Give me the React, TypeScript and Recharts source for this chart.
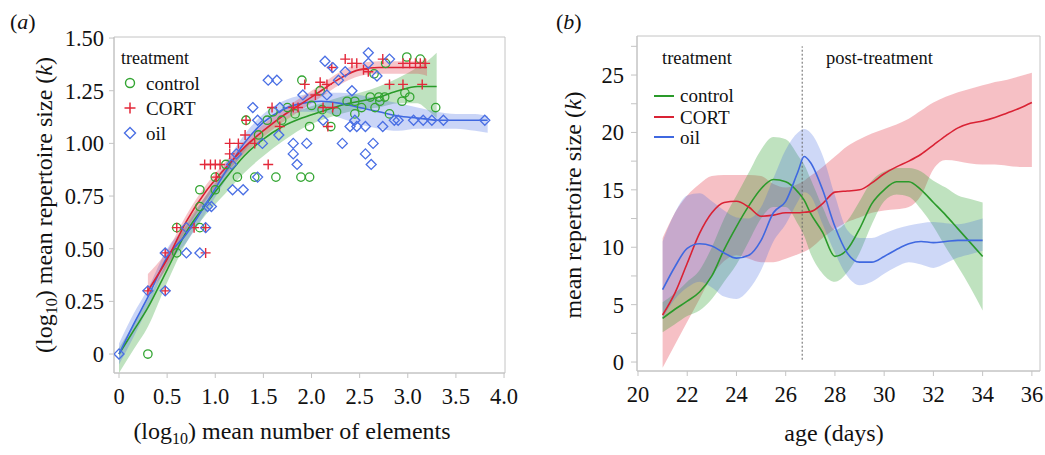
import React from "react";
import { ComposedChart, Area, Line, Scatter, XAxis, YAxis, ReferenceLine, ReferenceArea } from "recharts";

const FONT = '"Liberation Serif", "Times New Roman", serif';
const AXIS = "#c4c4c4";

// ---- panel (a): scatter of log10 elements vs log10 repertoire ----
const controlPts: [number, number][] = [
  [0.3, 0], [0.6, 0.48], [0.6, 0.6], [0.84, 0.6], [0.84, 0.7], [0.84, 0.78], [1.0, 0.78], [1.0, 0.84],
  [1.11, 0.9], [1.23, 0.84], [1.41, 0.84], [1.63, 0.84], [1.89, 0.84], [1.98, 0.84], [1.32, 1.11],
  [1.54, 1.11], [1.69, 1.11], [1.83, 1.14], [1.9, 1.3], [1.98, 1.08], [2.09, 1.25], [2.11, 1.16],
  [2.2, 1.08], [2.26, 1.15], [2.37, 1.2], [2.45, 1.2], [2.45, 1.14], [2.52, 1.17], [2.61, 1.22],
  [2.66, 1.17], [2.7, 1.22], [2.71, 1.2], [2.76, 1.22], [2.81, 1.14], [2.65, 1.33], [2.77, 1.38],
  [2.94, 1.2], [2.97, 1.24], [3.02, 1.22], [2.99, 1.41], [3.13, 1.4], [3.29, 1.17], [1.6, 1.15],
  [1.75, 1.17], [2.0, 1.18], [1.45, 1.04],
];
const cortPts: [number, number][] = [
  [0.3, 0.3], [0.48, 0.3], [0.48, 0.48], [0.9, 0.48], [0.6, 0.6], [0.78, 0.6], [0.9, 0.6],
  [0.89, 0.9], [0.95, 0.9], [1.0, 0.9], [1.05, 0.9], [1.01, 0.84], [1.15, 1.0], [1.15, 0.95],
  [1.24, 1.0], [1.31, 1.04], [1.32, 1.11], [1.41, 1.0], [1.55, 0.9], [1.59, 1.17], [1.67, 1.08],
  [1.81, 1.17], [1.86, 1.17], [1.93, 1.28], [2.04, 1.23], [2.09, 1.29], [2.12, 1.17], [2.16, 1.28],
  [2.17, 1.08], [2.22, 1.17], [2.21, 1.36], [2.35, 1.4], [2.42, 1.38], [2.47, 1.38], [2.54, 1.35],
  [2.59, 1.34], [2.74, 1.4], [2.81, 1.28], [2.95, 1.38], [2.95, 1.28], [3.02, 1.38], [3.08, 1.38],
  [3.13, 1.38], [3.15, 1.28], [3.18, 1.38],
];
const oilPts: [number, number][] = [
  [0, 0], [0.3, 0.3], [0.48, 0.3], [0.48, 0.48], [0.7, 0.48], [0.84, 0.48], [0.7, 0.6], [0.9, 0.6],
  [0.92, 0.7], [0.96, 0.7], [1.18, 0.78], [1.29, 0.78], [1.44, 0.84], [1.55, 1.3], [1.64, 1.3],
  [1.39, 1.17], [1.44, 1.11], [1.49, 1.0], [1.67, 1.17], [1.66, 1.04], [1.81, 1.0], [1.81, 0.95],
  [1.85, 0.9], [1.95, 1.0], [2.12, 1.11], [2.14, 1.39], [2.22, 1.36], [2.35, 1.34], [2.28, 1.3],
  [2.32, 1.0], [2.42, 1.25], [2.4, 1.08], [2.45, 1.11], [2.47, 1.08], [2.56, 1.08], [2.56, 0.95],
  [2.59, 1.43], [2.59, 1.38], [2.62, 0.9], [2.64, 1.0], [2.68, 1.32], [2.74, 1.08], [2.81, 1.4],
  [2.86, 1.11], [2.9, 1.11], [3.06, 1.11], [3.16, 1.11], [3.25, 1.11], [3.37, 1.11], [3.8, 1.11],
  [1.22, 0.95], [1.17, 0.9], [1.91, 1.23], [2.16, 1.23],
];

const gridA = [0, 0.15, 0.3, 0.5, 0.7, 0.9, 1.1, 1.3, 1.5, 1.7, 1.9, 2.1, 2.3, 2.5, 2.7, 2.9, 3.1, 3.2, 3.3, 3.5, 3.7, 3.83];
const N = null;
const cortFitA = [N, N, 0.3, 0.45, 0.63, 0.77, 0.88, 0.98, 1.06, 1.13, 1.19, 1.25, 1.31, 1.35, 1.36, 1.36, 1.36, 1.36, N, N, N, N];
const cortLoA = [N, N, 0.29, 0.41, 0.59, 0.73, 0.85, 0.95, 1.03, 1.1, 1.16, 1.22, 1.28, 1.32, 1.33, 1.33, 1.33, 1.32, N, N, N, N];
const cortHiA = [N, N, 0.38, 0.49, 0.66, 0.8, 0.91, 1.01, 1.09, 1.16, 1.22, 1.28, 1.34, 1.38, 1.39, 1.39, 1.39, 1.4, N, N, N, N];
const ctrlFitA = [0, 0.11, 0.22, 0.4, 0.58, 0.71, 0.83, 0.94, 1.02, 1.08, 1.12, 1.15, 1.18, 1.2, 1.22, 1.25, 1.27, 1.27, 1.27, N, N, N];
const ctrlLoA = [-0.09, 0.02, 0.13, 0.34, 0.53, 0.66, 0.76, 0.86, 0.94, 1.01, 1.07, 1.11, 1.14, 1.16, 1.17, 1.19, 1.19, 1.16, 1.12, N, N, N];
const ctrlHiA = [0.03, 0.14, 0.26, 0.44, 0.62, 0.75, 0.87, 0.98, 1.06, 1.12, 1.16, 1.19, 1.22, 1.24, 1.27, 1.31, 1.36, 1.39, 1.43, N, N, N];
const oilFitA = [0, 0.14, 0.27, 0.46, 0.57, 0.71, 0.86, 1.0, 1.1, 1.16, 1.19, 1.2, 1.19, 1.17, 1.15, 1.13, 1.12, 1.115, 1.11, 1.11, 1.11, 1.11];
const oilLoA = [-0.05, 0.08, 0.22, 0.42, 0.53, 0.67, 0.82, 0.96, 1.06, 1.12, 1.15, 1.15, 1.12, 1.09, 1.07, 1.06, 1.07, 1.07, 1.07, 1.07, 1.06, 1.05];
const oilHiA = [0.05, 0.19, 0.31, 0.5, 0.61, 0.75, 0.9, 1.04, 1.14, 1.2, 1.23, 1.24, 1.24, 1.23, 1.21, 1.19, 1.17, 1.16, 1.15, 1.14, 1.14, 1.13];

const xTicksA = [0, 0.5, 1, 1.5, 2, 2.5, 3, 3.5, 4];
const yTicksA = [0, 0.25, 0.5, 0.75, 1, 1.25, 1.5];

// ---- panel (b): repertoire size by age ----
const days = [21, 21.5, 22, 22.5, 23, 23.5, 24, 24.5, 25, 25.5, 26, 26.5, 26.75, 27, 27.5, 28, 28.5, 29, 29.5, 30, 30.5, 31, 31.5, 32, 32.5, 33, 33.5, 34, 34.5, 35, 35.5, 36];
const cortB = [4.1, 6.0, 8.6, 11.2, 13.0, 13.9, 14.0, 13.5, 12.7, 12.8, 13.0, 13.0, 13.05, 13.1, 13.8, 14.8, 14.9, 15.0, 15.6, 16.4, 17.0, 17.5, 18.1, 18.9, 19.7, 20.4, 20.8, 21.0, 21.3, 21.7, 22.1, 22.6];
const cortLoB = [-0.5, 1.5, 3.5, 5.5, 7.5, 8.8, 9.3, 9.0, 8.7, 8.7, 9.0, 9.4, 9.6, 9.9, 10.8, 11.6, 12.2, 12.6, 13.0, 13.2, 13.3, 13.5, 14.5, 16.8, 17.6, 17.5, 17.3, 17.2, 17.2, 17.1, 17.0, 17.0];
const cortHiB = [10.8, 13.0, 14.5, 15.5, 16.2, 16.3, 16.3, 16.3, 16.2, 15.5, 15.2, 15.5, 15.8, 16.2, 17.0, 17.9, 18.8, 19.4, 19.9, 20.3, 20.7, 21.2, 21.9, 22.6, 23.1, 23.5, 23.8, 24.1, 24.4, 24.6, 24.9, 25.2];
const ctrlB = [3.8, 4.6, 5.3, 6.1, 7.5, 9.8, 11.8, 13.6, 15.1, 15.9, 15.7, 14.8, 14.1, 13.0, 11.3, 9.2, 9.8, 11.6, 13.8, 15.0, 15.7, 15.7, 15.0, 13.9, 12.8, 11.6, 10.4, 9.2, N, N, N, N];
const ctrlLoB = [2.6, 3.3, 4.0, 4.5, 5.5, 7.0, 8.5, 10.5, 12.5, 13.5, 13.5, 12.0, 11.0, 9.5, 7.7, 7.0, 7.8, 9.5, 12.0, 14.0, 14.6, 14.4, 13.3, 11.8, 10.0, 8.3, 6.5, 4.5, N, N, N, N];
const ctrlHiB = [5.2, 6.0, 7.0, 8.0, 10.0, 12.5, 14.5, 16.5, 18.5, 19.6, 19.4, 18.0, 17.2, 16.0, 13.5, 11.5, 12.3, 14.0, 15.8, 16.6, 16.9, 16.9, 16.6, 15.8, 15.2, 14.5, 14.2, 13.9, N, N, N, N];
const oilB = [6.3, 8.3, 9.9, 10.3, 10.1, 9.5, 9.05, 9.3, 10.6, 13.0, 14.0, 16.6, 17.9, 17.4, 15.0, 11.8, 9.5, 8.7, 8.7, 9.2, 9.8, 10.3, 10.5, 10.4, 10.5, 10.6, 10.6, 10.6, N, N, N, N];
const oilLoB = [3.8, 5.5, 6.5, 7.0, 6.5, 5.7, 5.5, 6.3, 8.0, 10.5, 12.0, 14.0, 14.8, 14.5, 12.0, 9.5, 7.5, 6.7, 7.0, 7.7, 8.3, 8.7, 8.5, 8.2, 8.6, 9.1, 9.4, 9.7, N, N, N, N];
const oilHiB = [10.5, 13.0, 14.5, 14.7, 14.0, 13.2, 12.6, 12.5, 13.5, 16.0, 18.5, 20.0, 20.3, 20.0, 18.0, 14.5, 11.5, 10.8, 10.8, 11.2, 11.6, 11.9, 12.1, 12.2, 12.1, 12.0, 12.2, 12.5, N, N, N, N];

const xTicksB = [20, 22, 24, 26, 28, 30, 32, 34, 36];
const yTicksB = [0, 2.5, 5, 7.5, 10, 12.5, 15, 17.5, 20, 22.5, 25, 27.5];
const treatmentEnd = 26.67;

const GREEN = "#2a9a2a";
const RED = "#d92234";
const BLUE = "#3f68e0";

const band = (lo: (number | null)[], hi: (number | null)[], i: number) =>
  lo[i] == null || hi[i] == null ? undefined : [lo[i], hi[i]];

const tableA = gridA.map((x, i) => ({
  x,
  cort: cortFitA[i], cortBand: band(cortLoA, cortHiA, i),
  ctrl: ctrlFitA[i], ctrlBand: band(ctrlLoA, ctrlHiA, i),
  oil: oilFitA[i], oilBand: band(oilLoA, oilHiA, i),
}));
const toXY = (pts: [number, number][]) => pts.map(([x, y]) => ({ x, y }));

const tableB = days.map((x, i) => ({
  x,
  cort: cortB[i], cortBand: band(cortLoB, cortHiB, i),
  ctrl: ctrlB[i], ctrlBand: band(ctrlLoB, ctrlHiB, i),
  oil: oilB[i], oilBand: band(oilLoB, oilHiB, i),
}));

const tick = { fontSize: 22.5, fill: "#111", fontFamily: FONT };

const CircleMark = (p: any) => <circle cx={p.cx} cy={p.cy} r={4.2} fill="none" stroke="#33a532" strokeWidth={1.3} />;
const PlusMark = (p: any) => (
  <path d={`M${p.cx - 5},${p.cy}h10M${p.cx},${p.cy - 5}v10`} stroke="#e3283a" strokeWidth={1.4} fill="none" />
);
const DiamondMark = (p: any) => (
  <path d={`M${p.cx},${p.cy - 5}L${p.cx + 5},${p.cy}L${p.cx},${p.cy + 5}L${p.cx - 5},${p.cy}Z`} stroke="#4a6fe4" strokeWidth={1.3} fill="none" />
);

const txt = (x: number, y: number, size: number, center = false, rot = false): React.CSSProperties => ({
  position: "absolute",
  left: x,
  top: y,
  fontSize: size,
  fontFamily: FONT,
  lineHeight: 1,
  whiteSpace: "nowrap",
  color: "#111",
  transform: `translate(${center ? "-50%" : "0"}, -50%)${rot ? " rotate(-90deg)" : ""}`,
});

const fmtA = (v: number) => (v === 0 ? "0" : v.toFixed(2));
const fmtAx = (v: number) => (v === 0 ? "0" : v.toFixed(1));

export default function App() {
  const xDomA: [number, number] = [-0.052, 4.01];
  const yDomA: [number, number] = [-0.09, 1.505];
  const xDomB: [number, number] = [19.96, 36.33];
  const yDomB: [number, number] = [-0.78, 28.4];

  return (
    <div style={{ position: "absolute", left: 0, top: 0, width: 1045, height: 455, background: "#fff" }}>
      <div style={{ position: "absolute", left: 0, top: 0 }}>
        <ComposedChart width={520} height={455} data={tableA} margin={{ top: 37, right: 15, bottom: 0, left: 0 }}>
          <XAxis
            dataKey="x" type="number" domain={xDomA} ticks={xTicksA} allowDataOverflow
            tickFormatter={fmtAx} tick={tick} height={82} tickSize={5} tickMargin={10}
            axisLine={{ stroke: AXIS }} tickLine={{ stroke: AXIS }}
          />
          <YAxis
            type="number" domain={yDomA} ticks={yTicksA} allowDataOverflow
            tickFormatter={fmtA} tick={tick} width={114} tickSize={5} tickMargin={5}
            axisLine={{ stroke: AXIS }} tickLine={{ stroke: AXIS }}
          />
          <ReferenceArea x1={xDomA[0]} x2={xDomA[1]} y1={yDomA[0]} y2={yDomA[1]} fill="none" stroke={AXIS} ifOverflow="visible" />
          <Area dataKey="ctrlBand" type="monotone" stroke="none" fill="#2ca02c" fillOpacity={0.3} isAnimationActive={false} activeDot={false} />
          <Area dataKey="oilBand" type="monotone" stroke="none" fill="#4169e1" fillOpacity={0.28} isAnimationActive={false} activeDot={false} />
          <Area dataKey="cortBand" type="monotone" stroke="none" fill="#e0303f" fillOpacity={0.28} isAnimationActive={false} activeDot={false} />
          <Scatter data={toXY(controlPts)} dataKey="y" shape={CircleMark} isAnimationActive={false} />
          <Scatter data={toXY(cortPts)} dataKey="y" shape={PlusMark} isAnimationActive={false} />
          <Scatter data={toXY(oilPts)} dataKey="y" shape={DiamondMark} isAnimationActive={false} />
          <Line dataKey="ctrl" type="monotone" stroke={GREEN} strokeWidth={1.6} dot={false} isAnimationActive={false} />
          <Line dataKey="oil" type="monotone" stroke={BLUE} strokeWidth={1.6} dot={false} isAnimationActive={false} />
          <Line dataKey="cort" type="monotone" stroke={RED} strokeWidth={1.6} dot={false} isAnimationActive={false} />
        </ComposedChart>
      </div>

      <div style={{ position: "absolute", left: 520, top: 0 }}>
        <ComposedChart width={525} height={455} data={tableB} margin={{ top: 36, right: 5, bottom: 0, left: 0 }}>
          <XAxis
            dataKey="x" type="number" domain={xDomB} ticks={xTicksB} allowDataOverflow
            tick={tick} height={84} tickSize={5} tickMargin={10}
            axisLine={{ stroke: AXIS }} tickLine={{ stroke: AXIS }}
          />
          <YAxis
            type="number" domain={yDomB} ticks={yTicksB} allowDataOverflow
            tickFormatter={(v: number) => (v % 5 === 0 ? String(v) : "")}
            tick={tick} width={117} tickSize={6} tickMargin={7}
            axisLine={{ stroke: AXIS }} tickLine={{ stroke: AXIS }}
          />
          <ReferenceArea x1={xDomB[0]} x2={xDomB[1]} y1={yDomB[0]} y2={yDomB[1]} fill="none" stroke={AXIS} ifOverflow="visible" />
          <Area dataKey="cortBand" type="monotone" stroke="none" fill="#e0303f" fillOpacity={0.3} isAnimationActive={false} activeDot={false} />
          <Area dataKey="ctrlBand" type="monotone" stroke="none" fill="#2ca02c" fillOpacity={0.3} isAnimationActive={false} activeDot={false} />
          <Area dataKey="oilBand" type="monotone" stroke="none" fill="#4169e1" fillOpacity={0.26} isAnimationActive={false} activeDot={false} />
          <ReferenceLine
            segment={[{ x: treatmentEnd, y: 0.2 }, { x: treatmentEnd, y: 27.5 }]}
            stroke="#666" strokeDasharray="2 2" strokeWidth={1}
          />
          <Line dataKey="ctrl" type="monotone" stroke={GREEN} strokeWidth={1.6} dot={false} isAnimationActive={false} />
          <Line dataKey="cort" type="monotone" stroke={RED} strokeWidth={1.6} dot={false} isAnimationActive={false} />
          <Line dataKey="oil" type="monotone" stroke={BLUE} strokeWidth={1.6} dot={false} isAnimationActive={false} />
        </ComposedChart>
      </div>

      {/* titles and axis labels */}
      <div style={txt(10, 22, 22)}>(<i>a</i>)</div>
      <div style={txt(556, 22, 22)}>(<i>b</i>)</div>
      <div style={txt(46, 205, 24, true, true)}>
        (log<sub style={{ fontSize: 16 }}>10</sub>) mean repertoire size (<i>k</i>)
      </div>
      <div style={txt(292, 433, 24, true)}>
        (log<sub style={{ fontSize: 16 }}>10</sub>) mean number of elements
      </div>
      <div style={txt(573, 205, 24, true, true)}>
        mean repertoire size (<i>k</i>)
      </div>
      <div style={txt(834, 433, 24, true)}>age (days)</div>

      {/* legend (a) */}
      <div style={txt(121, 58, 18)}>treatment</div>
      <svg style={{ position: "absolute", left: 120, top: 72 }} width={22} height={72}>
        <circle cx={10} cy={11} r={4.5} fill="none" stroke="#33a532" strokeWidth={1.4} />
        <path d="M4.5,36h11M10,30.5v11" stroke="#e3283a" strokeWidth={1.5} />
        <path d="M10,55.5L15.5,61L10,66.5L4.5,61Z" fill="none" stroke="#4a6fe4" strokeWidth={1.4} />
      </svg>
      <div style={txt(146, 83, 19)}>control</div>
      <div style={txt(146, 108, 19)}>CORT</div>
      <div style={txt(146, 133, 19)}>oil</div>

      {/* legend (b) */}
      <div style={txt(662, 58, 18.5)}>treatment</div>
      <div style={txt(826, 58, 18.5)}>post-treatment</div>
      <svg style={{ position: "absolute", left: 652, top: 88 }} width={24} height={56}>
        <path d="M2,8h20" stroke={GREEN} strokeWidth={2} />
        <path d="M2,29h20" stroke={RED} strokeWidth={2} />
        <path d="M2,49h20" stroke={BLUE} strokeWidth={2} />
      </svg>
      <div style={txt(680, 95, 19)}>control</div>
      <div style={txt(680, 117, 19)}>CORT</div>
      <div style={txt(680, 137, 19)}>oil</div>
    </div>
  );
}
